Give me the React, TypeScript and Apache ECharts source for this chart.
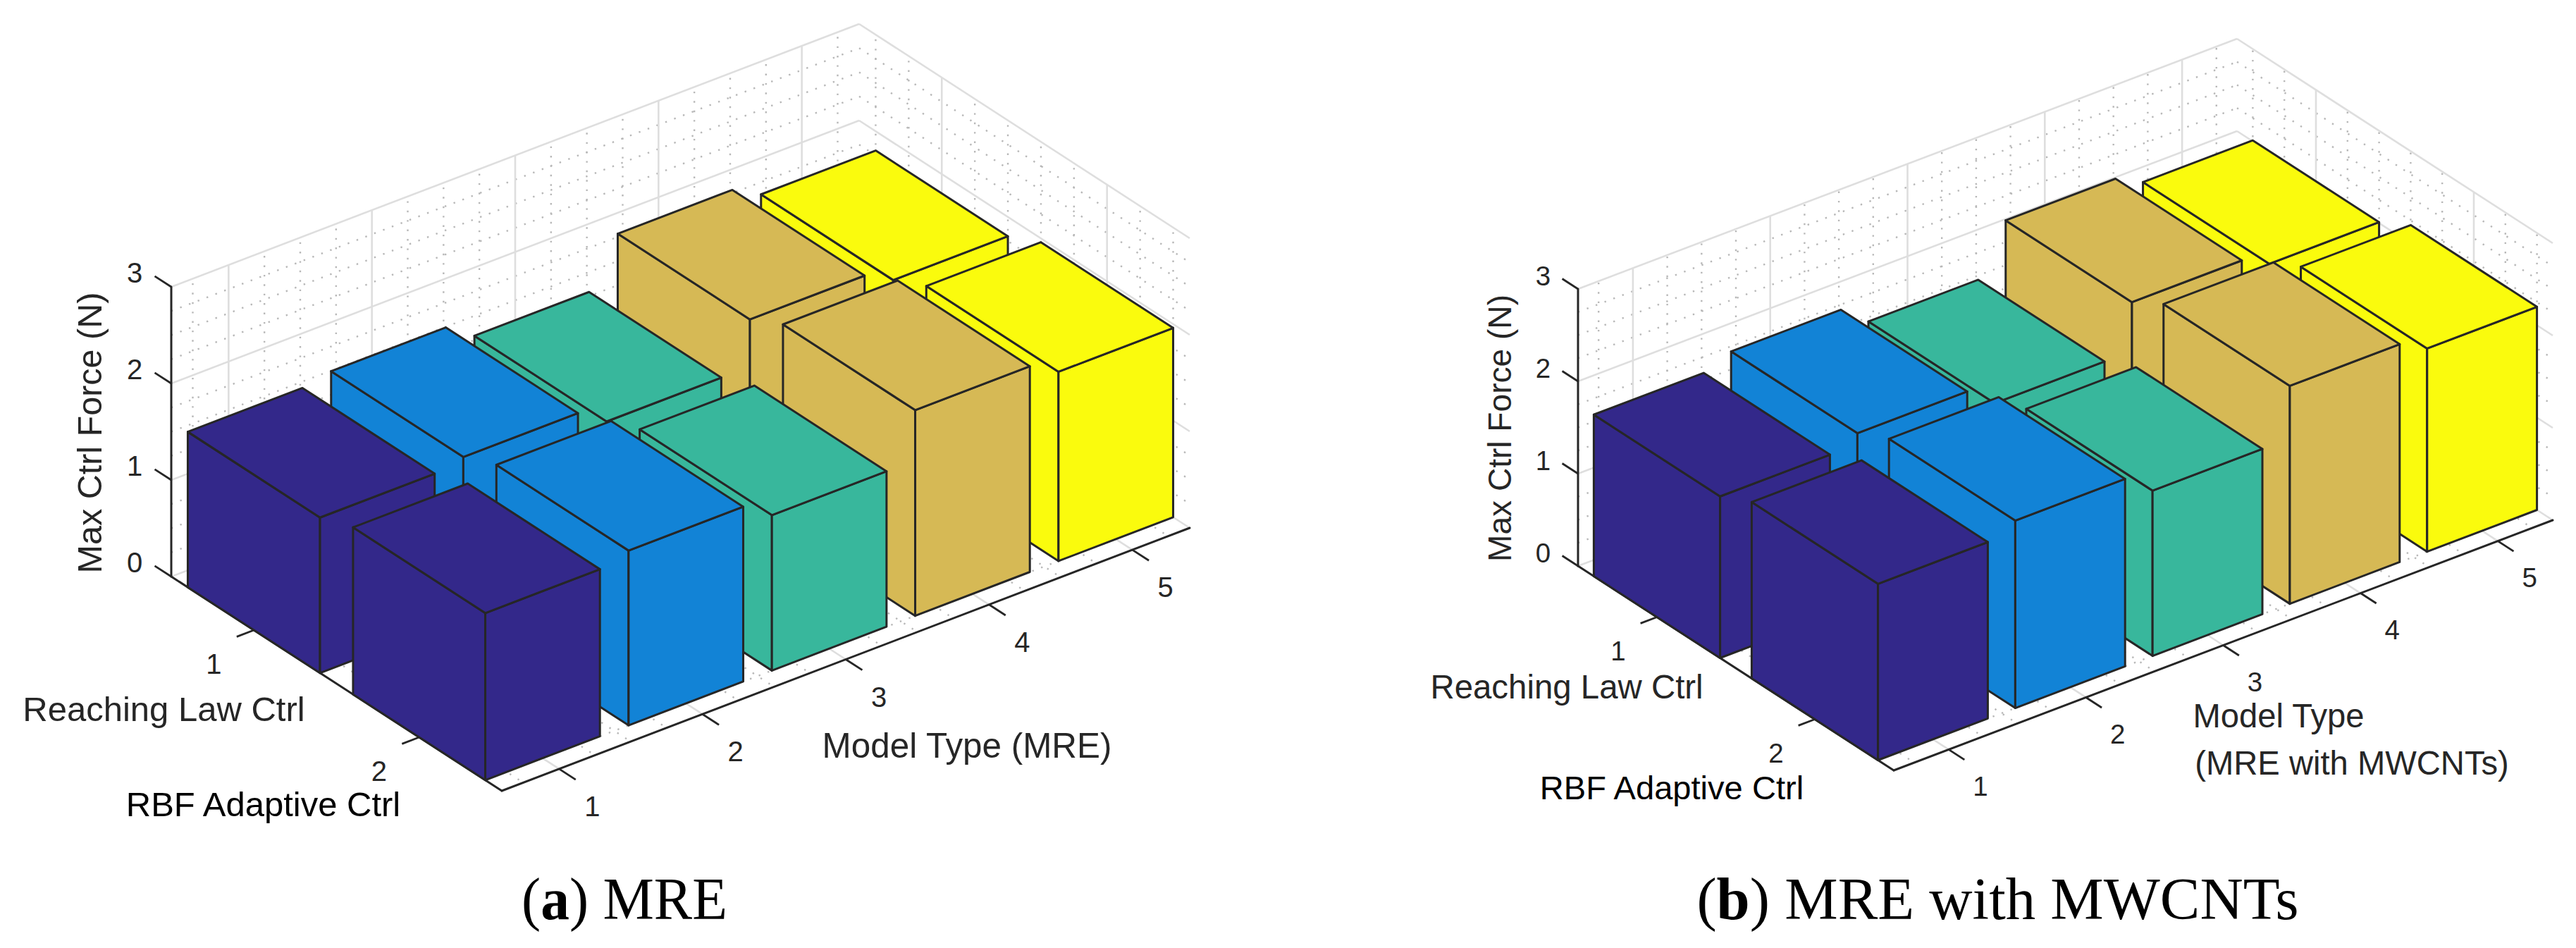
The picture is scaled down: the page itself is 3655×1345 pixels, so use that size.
import React, { useEffect, useRef } from "react";
import * as echarts from "echarts";

// ---------- data ----------
const modelTicks = [1, 2, 3, 4, 5];
const ctrlTicks = [1, 2];
const forceTicks = [0, 1, 2, 3];
const modelMinor = [0.75, 1.25, 1.5, 1.75, 2.25, 2.5, 2.75, 3.25, 3.5, 3.75, 4.25, 4.5, 4.75, 5.25];
const ctrlMinor = [0.6, 0.8, 1.2, 1.4, 1.6, 1.8, 2.2, 2.4];
const forceMinor = [0.25, 0.5, 0.75, 1.25, 1.5, 1.75, 2.25, 2.5, 2.75];

const mreReaching = [1.61, 1.67, 1.47, 1.96, 1.8];
const mreRbf = [1.73, 1.81, 1.61, 2.13, 1.96];
const cntReaching = [1.75, 1.87, 1.63, 2.16, 2.01];
const cntRbf = [1.91, 2.03, 1.79, 2.36, 2.2];

const barColors = ["#33288A", "#1283D6", "#38B79C", "#D6B955", "#FAFB0D"];
const EDGE = "#262626";
const MAJOR = "#dedede";
const MINOR = "#b8b8b8";
const SANS = "'Liberation Sans', Arial, sans-serif";
const SERIF = "'Liberation Serif', 'Times New Roman', serif";

const M_MIN = 0.6;
const M_MAX = 5.4;
const C_MIN = 0.5;
const C_MAX = 2.5;
const Z_MAX = 3;

type View = { ox: number; oy: number; mx: number; my: number; cx: number; cy: number; zu: number };
// view of each panel: floor's left corner, floor edge vectors, and pixels per newton
const viewA: View = { ox: 243, oy: 818, mx: 976, my: -373, cx: 469, cy: 304, zu: 137 };
const viewB: View = { ox: 2239, oy: 803, mx: 935, my: -355, cx: 448, cy: 290, zu: 131 };

const project = (v: View, m: number, c: number, z: number): [number, number] => {
  const t = (m - M_MIN) / (M_MAX - M_MIN);
  const s = (c - C_MIN) / (C_MAX - C_MIN);
  return [v.ox + t * v.mx + s * v.cx, v.oy + t * v.my + s * v.cy - z * v.zu];
};

function gridSeries(view: View, major: boolean) {
  const mv = major ? modelTicks : modelMinor;
  const cv = major ? ctrlTicks : ctrlMinor;
  const zv = major ? forceTicks : forceMinor;
  const rows: number[][] = [];
  mv.forEach((m) => {
    rows.push([m, C_MIN, 0, m, C_MIN, Z_MAX]);
    rows.push([m, C_MIN, 0, m, C_MAX, 0]);
  });
  cv.forEach((c) => {
    rows.push([M_MAX, c, 0, M_MAX, c, Z_MAX]);
    rows.push([M_MIN, c, 0, M_MAX, c, 0]);
  });
  zv.forEach((z) => {
    rows.push([M_MIN, C_MIN, z, M_MAX, C_MIN, z]);
    rows.push([M_MAX, C_MIN, z, M_MAX, C_MAX, z]);
  });
  return {
    type: "custom",
    coordinateSystem: "cartesian2d",
    silent: true,
    data: rows,
    renderItem: (_p: any, api: any) => {
      const a = api.coord(project(view, api.value(0), api.value(1), api.value(2)));
      const b = api.coord(project(view, api.value(3), api.value(4), api.value(5)));
      return {
        type: "line",
        shape: { x1: a[0], y1: a[1], x2: b[0], y2: b[1] },
        style: major
          ? { stroke: MAJOR, lineWidth: 2.6, fill: "none" }
          : { stroke: MINOR, lineWidth: 2.4, lineDash: [2.4, 11], fill: "none" },
      };
    },
  };
}

function barSeries(view: View, reaching: number[], rbf: number[]) {
  const rows: number[][] = [];
  for (let i = reaching.length - 1; i >= 0; i--) rows.push([modelTicks[i], ctrlTicks[0], reaching[i], i]);
  for (let i = rbf.length - 1; i >= 0; i--) rows.push([modelTicks[i], ctrlTicks[1], rbf[i], i]);
  const half = 0.4;
  return {
    type: "custom",
    coordinateSystem: "cartesian2d",
    silent: true,
    data: rows,
    renderItem: (_p: any, api: any) => {
      const m = api.value(0);
      const c = api.value(1);
      const v = api.value(2);
      const color = barColors[api.value(3)];
      const P = (mm: number, cc: number, z: number) => api.coord(project(view, mm, cc, z));
      const m0 = m - half, m1 = m + half, c0 = c - half, c1 = c + half;
      const style = { fill: color, stroke: EDGE, lineWidth: 3, lineJoin: "round" };
      return {
        type: "group",
        children: [
          { type: "polygon", shape: { points: [P(m0, c0, 0), P(m0, c1, 0), P(m0, c1, v), P(m0, c0, v)] }, style },
          { type: "polygon", shape: { points: [P(m0, c1, 0), P(m1, c1, 0), P(m1, c1, v), P(m0, c1, v)] }, style },
          { type: "polygon", shape: { points: [P(m0, c0, v), P(m0, c1, v), P(m1, c1, v), P(m1, c0, v)] }, style },
        ],
      };
    },
  };
}

function axisFrame(view: View) {
  const rows = [
    [M_MIN, C_MIN, 0, M_MIN, C_MIN, Z_MAX],
    [M_MIN, C_MIN, 0, M_MIN, C_MAX, 0],
    [M_MIN, C_MAX, 0, M_MAX, C_MAX, 0],
  ];
  return {
    type: "custom",
    coordinateSystem: "cartesian2d",
    silent: true,
    data: rows,
    renderItem: (_p: any, api: any) => {
      const a = api.coord(project(view, api.value(0), api.value(1), api.value(2)));
      const b = api.coord(project(view, api.value(3), api.value(4), api.value(5)));
      return {
        type: "line",
        shape: { x1: a[0], y1: a[1], x2: b[0], y2: b[1] },
        style: { stroke: EDGE, lineWidth: 3, lineCap: "round", fill: "none" },
      };
    },
  };
}

// kind: 0 model axis, 1 ctrl axis, 2 force axis
function tickSeries(view: View, kind: number, ticks: number[], labelDx: number, labelDy: number, fontSize: number) {
  return {
    type: "custom",
    coordinateSystem: "cartesian2d",
    silent: true,
    data: ticks.map((t) => [t]),
    renderItem: (_p: any, api: any) => {
      const t = api.value(0);
      const from =
        kind === 0 ? project(view, t, C_MAX, 0) : kind === 1 ? project(view, M_MIN, t, 0) : project(view, M_MIN, C_MIN, t);
      const to =
        kind === 0
          ? project(view, t, C_MAX + 0.1, 0)
          : kind === 1
          ? project(view, M_MIN - 0.12, t, 0)
          : project(view, M_MIN, C_MIN - 0.1, t);
      const a = api.coord(from);
      const b = api.coord(to);
      return {
        type: "group",
        children: [
          {
            type: "line",
            shape: { x1: a[0], y1: a[1], x2: b[0], y2: b[1] },
            style: { stroke: EDGE, lineWidth: 2.8, fill: "none" },
          },
          {
            type: "text",
            x: a[0] + labelDx,
            y: a[1] + labelDy,
            style: {
              text: String(t),
              fontSize,
              fontFamily: SANS,
              fill: EDGE,
              align: "center",
              verticalAlign: "middle",
            },
          },
        ],
      };
    },
  };
}

const label = (text: string, x: number, y: number, fontSize: number, fill = EDGE) => ({
  type: "text",
  x,
  y,
  silent: true,
  style: { text, fontSize, fontFamily: SANS, fill, align: "center", verticalAlign: "middle" },
});

const zLabel = (x: number, y: number, fontSize: number) => ({
  type: "text",
  x,
  y,
  rotation: Math.PI / 2,
  silent: true,
  style: {
    text: "Max Ctrl Force (N)",
    fontSize,
    fontFamily: SANS,
    fill: EDGE,
    align: "center",
    verticalAlign: "middle",
  },
});

const caption = (text: string, x: number, y: number, sx: number) => ({
  type: "text",
  x,
  y,
  scaleX: sx,
  silent: true,
  style: {
    text,
    fontSize: 84,
    fontFamily: SERIF,
    fill: "#000",
    align: "center",
    verticalAlign: "middle",
    rich: { b: { fontSize: 84, fontFamily: SERIF, fontWeight: "bold", fill: "#000" } },
  },
});

export default function App() {
  const ref = useRef<HTMLDivElement>(null);
  useEffect(() => {
    document.body.style.margin = "0";
    const chart = echarts.init(ref.current!, undefined, { renderer: "svg" });
    const panel = (
      v: View,
      a: number[],
      b: number[],
      font: number,
      mDx: number,
      mDy: number,
      cDx: number,
      cDy: number,
      zDx: number,
      zDy: number
    ) => [
      gridSeries(v, false),
      gridSeries(v, true),
      axisFrame(v),
      tickSeries(v, 0, modelTicks, mDx, mDy, font),
      tickSeries(v, 1, ctrlTicks, cDx, cDy, font),
      tickSeries(v, 2, forceTicks, zDx, zDy, font),
      barSeries(v, a, b),
    ];
    chart.setOption({
      animation: false,
      backgroundColor: "#fff",
      grid: { left: 0, top: 0, right: 0, bottom: 0 },
      xAxis: { type: "value", min: 0, max: 3655, show: false },
      yAxis: { type: "value", min: 0, max: 1345, inverse: true, show: false },
      series: [
        ...panel(viewA, mreReaching, mreRbf, 40, 47, 53, -57, 48, -52, -20.5),
        ...panel(viewB, cntReaching, cntRbf, 38.5, 45, 52, -55, 47.5, -49.5, -19),
      ],
      graphic: [
        zLabel(127, 614, 48.5),
        label("Reaching Law Ctrl", 232.5, 1006, 49),
        label("RBF Adaptive Ctrl", 373.5, 1141, 49, "#000"),
        label("Model Type (MRE)", 1372, 1057, 49.4),
        caption("({b|a}) MRE", 886, 1276, 0.97),
        zLabel(2127.7, 607.5, 46.1),
        label("Reaching Law Ctrl", 2223, 974, 47.4),
        label("RBF Adaptive Ctrl", 2372, 1117, 47.1, "#000"),
        label("Model Type", 3233, 1015, 47.2),
        label("(MRE with MWCNTs)", 3337, 1082, 47.2),
        caption("({b|b}) MRE with MWCNTs", 2834.5, 1276, 1.01),
      ],
    });
    return () => chart.dispose();
  }, []);
  return <div ref={ref} style={{ position: "absolute", left: 0, top: 0, width: 3655, height: 1345 }} />;
}
